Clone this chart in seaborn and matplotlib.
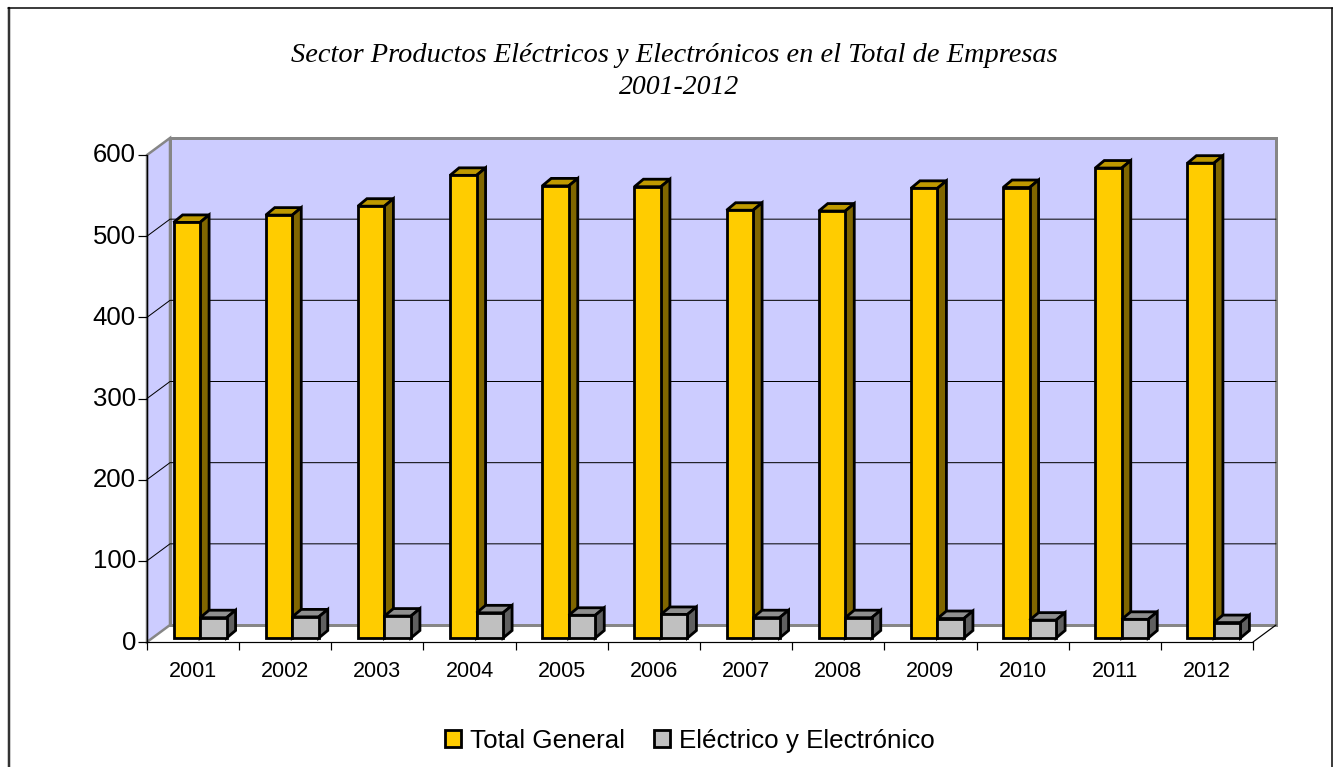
import matplotlib
matplotlib.use('Agg')
import matplotlib.pyplot as plt
import pandas as pd
import seaborn as sns
from matplotlib.lines import Line2D
from matplotlib.patches import Polygon
from matplotlib.ticker import FixedLocator, MultipleLocator
from matplotlib.transforms import Affine2D, IdentityTransform

# values
years = ['2001', '2002', '2003', '2004', '2005', '2006',
         '2007', '2008', '2009', '2010', '2011', '2012']
total_general = [512, 521, 532, 570, 557, 556, 527, 526, 554, 555, 579, 585]
electrico = [25, 26, 27, 31, 28, 29, 25, 25, 24, 22, 23, 19]
series_names = ['Total General', 'Eléctrico y Electrónico']
title_lines = ['Sector Productos Eléctricos y Electrónicos en el Total de Empresas', '2001-2012']

W, H = 1333, 767
WALL_DX, WALL_DY = 23, 17   # depth of the fake 3d box
BAR_DX, BAR_DY = 9, 7.5     # depth of a bar
SHIFT_DX, SHIFT_DY = 7, 4   # bars stand in the middle of the floor
PX = 72 / 100               # one pixel in points

df = pd.DataFrame({
    'year': years * 2,
    'value': total_general + electrico,
    'serie': [series_names[0]] * 12 + [series_names[1]] * 12,
})

sns.set_theme(style='white')
plt.rcParams['font.family'] = ['Liberation Sans', 'DejaVu Sans']
plt.rcParams['text.color'] = 'black'

fig = plt.figure(figsize=(W / 100, H / 100), dpi=100)
ax = fig.add_axes([147 / W, (H - 642) / H, 1106 / W, 487 / H])
ax.patch.set_alpha(0)

sns.barplot(data=df, x='year', y='value', hue='serie', ax=ax, width=0.575, gap=0,
            palette=['#FFCC00', '#C0C0C0'], saturation=1,
            edgecolor='black', linewidth=2.8 * PX)
ax.set_xlim(-0.5, 11.5)
ax.set_ylim(0, 600)
ax.set_xlabel('')
ax.set_ylabel('')

# axes and ticks
for side in ['top', 'right']:
    ax.spines[side].set_visible(False)
for side in ['left', 'bottom']:
    ax.spines[side].set_color('black')
    ax.spines[side].set_linewidth(1.2 * PX)
ax.yaxis.set_major_locator(MultipleLocator(100))
ax.xaxis.set_minor_locator(FixedLocator([i - 0.5 for i in range(13)]))
ax.tick_params(axis='y', which='major', left=True, length=9 * PX, width=1.2 * PX,
               color='black', labelsize=18.5, pad=1.5, labelcolor='black')
ax.tick_params(axis='x', which='major', bottom=False, labelsize=15.5, pad=8,
               labelcolor='black')
ax.tick_params(axis='x', which='minor', bottom=True, length=8 * PX, width=1.2 * PX,
               color='black')
for label in ax.get_yticklabels():
    label.set_transform(label.get_transform() + Affine2D().translate(0, 2))

# everything below is drawn in pixels, measured from the axes
fig.canvas.draw()
x0, y0 = ax.transAxes.transform((0, 0))
x1, y1 = ax.transAxes.transform((1, 1))
pixel = IdentityTransform()


def face(points, color, z, edge='black', lw=2.8):
    ax.add_patch(Polygon(points, closed=True, facecolor=color, edgecolor=edge,
                         linewidth=lw * PX, transform=pixel, zorder=z,
                         clip_on=False, joinstyle='miter'))


def line(xs, ys, color='black', lw=1.2, z=1):
    ax.add_line(Line2D(xs, ys, color=color, linewidth=lw * PX, transform=pixel,
                       zorder=z, clip_on=False))


# walls of the box
wall = '#CCCCFF'
gray = '#868686'
bx0, bx1, by0, by1 = x0 + WALL_DX, x1 + WALL_DX, y0 + WALL_DY, y1 + WALL_DY
face([(bx0, by0), (bx1, by0), (bx1, by1), (bx0, by1)], wall, 0.1, edge=gray, lw=3)
face([(x0, y0), (bx0, by0), (bx0, by1), (x0, y1)], wall, 0.1, edge=gray, lw=2.5)
line([x0, x0], [y0, y1], z=0.2)
line([x1, bx1], [y0, by0], z=0.2)

# grid runs over the left wall and the back wall
for v in range(100, 600, 100):
    gy = ax.transData.transform((0, v))[1]
    line([x0, bx0, bx1], [gy, gy + WALL_DY, gy + WALL_DY], lw=1, z=0.3)

# bars: move the seaborn rectangles and add their top and side faces
top_colors = ['#BF9900', '#8F8F8F']
side_colors = ['#806600', '#606060']
shift = ax.transData + Affine2D().translate(SHIFT_DX, SHIFT_DY)
for i, bars in enumerate(ax.containers):
    for bar in bars:
        bar.set_transform(shift)
        bar.set_zorder(3.1 + i)
        bar.set_clip_on(False)
        box = bar.get_window_extent()
        left, right, low, high = box.x0, box.x1, box.y0, box.y1
        face([(left, high), (left + BAR_DX, high + BAR_DY),
              (right + BAR_DX, high + BAR_DY), (right, high)], top_colors[i], 3 + i)
        face([(right, low), (right + BAR_DX, low + BAR_DY),
              (right + BAR_DX, high + BAR_DY), (right, high)], side_colors[i], 3 + i)

sns.move_legend(ax, 'center', bbox_to_anchor=(690 / W, (H - 741) / H),
                bbox_transform=fig.transFigure, ncol=2, title=None, frameon=False,
                fontsize=18.7, handlelength=0.62, handleheight=0.62,
                handletextpad=0.35, columnspacing=1.1)

serif = ['Liberation Serif', 'DejaVu Serif']
fig.text(674.5 / W, (H - 55) / H, title_lines[0], ha='center', va='center', fontsize=20.4,
         style='italic', family=serif, color='black')
fig.text(679 / W, (H - 87) / H, title_lines[1], ha='center', va='center', fontsize=20,
         style='italic', family=serif, color='black')

# frame of the chart area
fig.add_artist(Line2D([8.5, 8.5], [0, H - 8], color='#333333', linewidth=2.5 * PX, transform=pixel))
fig.add_artist(Line2D([8, 1332.5], [H - 8, H - 8], color='black', linewidth=1.5 * PX, transform=pixel))
fig.add_artist(Line2D([1332, 1332], [0, H - 8], color='black', linewidth=1.5 * PX, transform=pixel))

fig.savefig('out.png', dpi=100)
